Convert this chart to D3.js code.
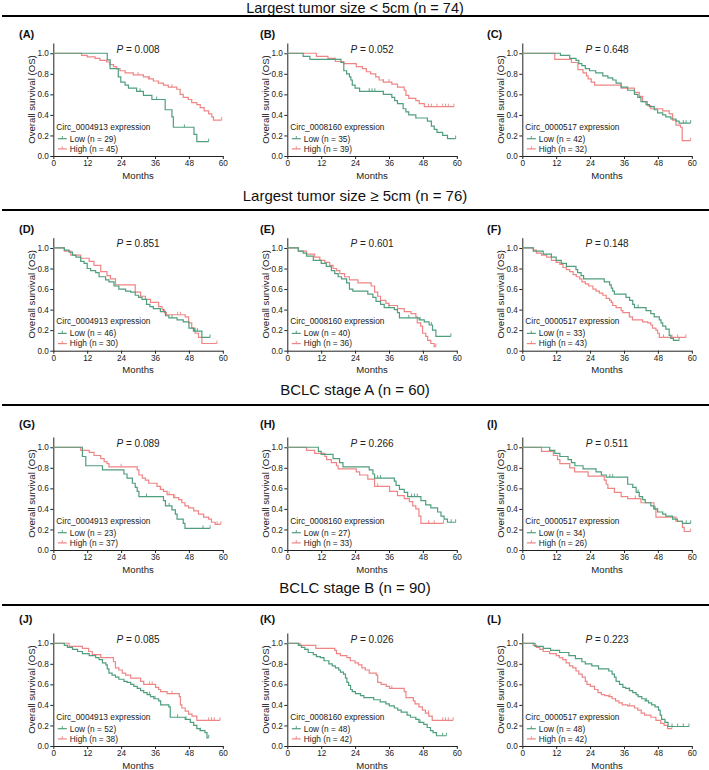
<!DOCTYPE html>
<html><head><meta charset="utf-8">
<script src="https://cdn.jsdelivr.net/npm/d3@7"></script>
<style>body{margin:0;background:#fff;} svg{display:block;font-family:"Liberation Sans",Arial,sans-serif;}</style>
</head><body>
<svg id="chart" width="709" height="770"></svg>
<script>
// ---------------- DATA ----------------
const sectionTitles = ["Largest tumor size < 5cm (n = 74)", "Largest tumor size \u2265 5cm (n = 76)", "BCLC stage A (n = 60)", "BCLC stage B (n = 90)"];
const panelLabels = ["(A)","(B)","(C)","(D)","(E)","(F)","(G)","(H)","(I)","(J)","(K)","(L)"];
const pValues = ["0.008","0.052","0.648","0.851","0.601","0.148","0.089","0.266","0.511","0.085","0.026","0.223"];
const circIds = ["Circ_0004913","Circ_0008160","Circ_0000517"];
const lowN  = [29,35,42,46,40,33,23,27,34,52,48,48];
const highN = [45,39,32,30,36,43,37,33,26,38,42,42];
const xTicks = [0,12,24,36,48,60];
const yTicks = [0,0.2,0.4,0.6,0.8,1.0];
const xTitle = "Months";
const yTitle = "Overall survival (OS)";

// survival steps: [month, survival from that month on]; last point = end of follow-up
const lowA = [[0,1],[19.1,.935],[20.1,.85],[23,.77],[23.9,.72],[25.4,.69],[26.6,.66],[29.5,.63],[31.9,.59],[34.9,.55],[39.6,.45],[42,.38],[42.5,.28],[49.8,.21],[50.8,.14],[55,.14]];
const highA = [[0,1],[10,.98],[12,.965],[14.8,.95],[16.5,.93],[18.9,.915],[20,.89],[21.3,.87],[22.4,.85],[23.6,.83],[25.4,.81],[28.3,.79],[31.9,.77],[33.7,.75],[35.4,.73],[37.2,.71],[39,.69],[40.7,.67],[43.7,.65],[44.9,.60],[46,.57],[47.8,.55],[49,.52],[50.8,.50],[52,.47],[53.4,.44],[55,.41],[56.1,.38],[56.7,.35],[59.6,.35]];
const lowB = [[0,1],[5.6,.97],[8,.94],[19,.91],[20,.83],[21,.80],[22,.77],[22.5,.74],[23,.69],[24,.66],[25.6,.63],[34,.60],[37,.57],[38,.54],[39,.51],[41,.46],[42,.43],[43,.40],[45.5,.37],[49.6,.34],[51,.29],[52,.26],[53,.23],[55,.20],[56.7,.17],[59.6,.17]];
const highB = [[0,1],[10.3,.97],[14.4,.95],[17,.92],[20,.90],[24.4,.87],[26.6,.85],[28,.82],[29.5,.80],[31.3,.77],[32.5,.74],[34,.72],[37,.70],[39,.67],[41.4,.64],[42,.59],[43,.56],[45.5,.54],[46.7,.51],[48.5,.48],[59,.48]];
const lowC = [[0,1],[13.5,.98],[16.8,.95],[19,.93],[20,.90],[21.1,.88],[22.3,.85],[23.8,.83],[26,.81],[28.5,.78],[30.3,.76],[32,.74],[33.2,.71],[35,.67],[37.3,.64],[39.7,.60],[40.9,.57],[42,.53],[43.8,.50],[45,.48],[46.7,.45],[47.9,.42],[49.7,.40],[50.8,.38],[52.6,.36],[54.4,.34],[55.5,.32],[59.6,.32]];
const highC = [[0,1],[11.5,.94],[17.4,.91],[19.7,.84],[21.5,.81],[22.7,.78],[23.3,.75],[24.4,.72],[25.6,.69],[35,.66],[39.7,.62],[41.4,.58],[42.6,.53],[44.3,.49],[45.5,.46],[49.7,.44],[52,.41],[53.2,.35],[54.4,.30],[56,.28],[56.6,.15],[59.6,.15]];
const lowD = [[0,1],[3.9,.98],[5.6,.96],[6.8,.93],[8,.91],[9.7,.87],[10.9,.85],[12,.80],[13.2,.78],[15,.76],[16.2,.72],[18.5,.69],[19.7,.67],[21.5,.63],[23.2,.60],[25.6,.58],[27.4,.57],[29,.54],[30.2,.52],[31.4,.50],[33,.45],[34.2,.43],[35.4,.41],[37.9,.38],[39.7,.34],[40.9,.32],[43.8,.30],[46,.28],[48,.22],[49.6,.19],[52.6,.13],[55.5,.13]];
const highD = [[0,1],[3.9,.97],[6.2,.93],[9.7,.90],[12.7,.87],[14.4,.83],[16.8,.77],[19,.73],[20.2,.70],[22,.64],[29,.57],[30.9,.53],[32.6,.50],[34.4,.47],[37.3,.43],[38.5,.40],[39.3,.37],[40,.35],[46.7,.33],[47.9,.27],[49,.22],[50.2,.17],[51.4,.13],[52.6,.07],[57.9,.07]];
const lowE = [[0,1],[3.9,.97],[5.6,.95],[6.8,.92],[9.2,.88],[12,.85],[13.8,.82],[15.6,.78],[16.8,.75],[18,.72],[19.2,.70],[21,.66],[22,.60],[23.2,.58],[28.5,.55],[30.3,.52],[31.4,.48],[33,.45],[34.3,.42],[37.9,.40],[39,.37],[39.7,.32],[46.7,.30],[48.5,.28],[50.2,.25],[51.4,.20],[52.6,.14],[57.9,.14]];
const highE = [[0,1],[3.9,.97],[6.8,.94],[9.7,.91],[11.5,.88],[13.3,.86],[15,.83],[16.2,.80],[17.4,.78],[18.6,.75],[20.3,.72],[22,.69],[25,.66],[29.7,.63],[30.9,.57],[32,.53],[33,.49],[34.9,.46],[36,.44],[39,.41],[41.4,.38],[43.8,.36],[45.5,.33],[46,.27],[47.2,.24],[47.9,.17],[49,.14],[49.7,.10],[50.8,.07],[52,.04],[52.6,.04]];
const lowF = [[0,1],[3.9,.97],[7.4,.94],[10.3,.91],[12,.88],[13.8,.85],[15.6,.82],[19,.79],[19.6,.76],[20.8,.73],[21.7,.70],[29,.67],[30.9,.64],[31.5,.61],[32,.58],[32.6,.55],[36.7,.52],[38,.49],[39.1,.45],[39.7,.42],[43.8,.39],[45.5,.36],[46.7,.33],[48.5,.30],[49.1,.27],[49.7,.24],[50.8,.21],[52,.15],[52.6,.12],[53.5,.10],[55.5,.10]];
const highF = [[0,1],[3.9,.98],[5,.95],[6.8,.93],[8.6,.91],[10.3,.88],[12,.86],[13.3,.84],[14.4,.81],[15.6,.79],[16.8,.77],[18,.74],[19.1,.72],[20.3,.70],[21.1,.67],[22.3,.65],[23.5,.63],[25,.60],[26.1,.58],[27.3,.56],[28.5,.54],[29.7,.51],[30.9,.49],[31.5,.47],[32,.44],[33.2,.42],[35,.39],[35.6,.37],[37.9,.33],[39,.30],[42.6,.28],[44.4,.27],[45.5,.25],[46.1,.22],[47.3,.20],[47.9,.17],[48.5,.13],[57.9,.13]];
const lowG = [[0,1],[10.3,.91],[11.5,.82],[17.4,.78],[25,.74],[26.1,.70],[28,.65],[29,.61],[29.7,.57],[30.3,.52],[39,.48],[39.7,.43],[42,.39],[43.2,.35],[43.8,.30],[46,.26],[46.6,.21],[55.5,.21]];
const highG = [[0,1],[9.7,.97],[12.7,.95],[14.4,.92],[16.8,.89],[18,.86],[19,.84],[19.7,.81],[29.7,.78],[30.3,.73],[31.5,.70],[32.6,.68],[33.8,.65],[36.7,.62],[37.9,.59],[39,.57],[40.3,.54],[42.6,.51],[44.4,.49],[45.5,.46],[46.6,.43],[47.9,.41],[49.7,.38],[51.4,.35],[53.2,.32],[55,.30],[56,.27],[57.3,.25],[59.3,.25]];
const lowH = [[0,1],[11,.96],[12,.93],[16.2,.89],[18.5,.85],[19.7,.81],[29,.78],[30.3,.74],[30.9,.70],[37.9,.67],[38.5,.63],[39.7,.59],[41.4,.56],[42.6,.52],[47.3,.48],[49,.44],[50.8,.41],[53.2,.37],[54.4,.33],[55.5,.30],[56.7,.27],[59.6,.27]];
const highH = [[0,1],[6.8,.97],[9.7,.94],[13.3,.91],[13.9,.88],[15.6,.85],[17.4,.82],[18,.79],[24.4,.76],[25.6,.73],[28.5,.69],[30.9,.62],[36.2,.57],[39,.53],[41.4,.50],[43.2,.47],[44.4,.43],[45.5,.40],[46.6,.33],[47.3,.26],[55.3,.26]];
const lowI = [[0,1],[9.7,.97],[11.5,.94],[13.3,.91],[16.2,.88],[17.4,.85],[18.6,.82],[21.5,.79],[26.1,.76],[28,.73],[29.7,.71],[37.3,.64],[39.1,.61],[40.3,.56],[41.4,.52],[42.6,.49],[43.5,.46],[45.5,.43],[46.6,.40],[47.9,.37],[49.7,.35],[50.8,.33],[53.2,.30],[54.9,.28],[56.7,.26],[59.6,.26]];
const highI = [[0,1],[6.8,.96],[11,.92],[12.5,.88],[13.3,.84],[16.8,.80],[18.5,.76],[23.3,.72],[29,.68],[29.7,.64],[30.3,.60],[32.6,.56],[35,.52],[37.3,.50],[42,.46],[46.6,.40],[47.3,.32],[54.4,.28],[56.7,.22],[57.3,.18],[59.6,.18]];
const lowJ = [[0,1],[3.9,.98],[5,.96],[6.8,.94],[8.6,.92],[10.3,.90],[12.7,.88],[15,.86],[16.2,.84],[17.4,.81],[18.6,.79],[19.1,.75],[19.7,.71],[20.8,.69],[22,.67],[23.2,.65],[25,.63],[26.1,.62],[27.4,.60],[28.5,.58],[29.7,.56],[30.9,.54],[32,.52],[33.2,.50],[34.4,.48],[35.6,.46],[37.3,.44],[38,.40],[40.9,.38],[41.4,.28],[46.7,.26],[48.5,.23],[49.7,.20],[50.8,.17],[52,.15],[53.7,.13],[54.4,.08],[55,.08]];
const highJ = [[0,1],[5.6,.97],[10.3,.95],[12.5,.92],[13.8,.89],[16.8,.86],[21.3,.82],[22,.76],[23.2,.74],[24.4,.71],[25.6,.69],[27.4,.66],[30.9,.63],[32,.60],[36.2,.57],[37.3,.55],[38,.53],[40.3,.51],[44.6,.48],[45,.40],[45.5,.37],[46.7,.34],[47.9,.31],[49.1,.29],[50.8,.25],[59,.25]];
const lowK = [[0,1],[3.9,.98],[5,.96],[6.2,.94],[7.4,.91],[9.2,.89],[10.3,.87],[11.7,.86],[13,.83],[14.7,.80],[15.9,.78],[17,.76],[18.2,.74],[18.8,.72],[19.9,.70],[20.6,.66],[21.1,.62],[21.7,.59],[22.4,.55],[23,.53],[24.1,.51],[25.9,.49],[27.1,.47],[30.6,.45],[32.9,.43],[34.9,.41],[36.1,.39],[37.9,.37],[39.1,.35],[40.3,.33],[42.4,.30],[43.6,.28],[45.5,.26],[46.6,.23],[48.3,.21],[49.5,.18],[50.7,.15],[51.6,.13],[52.8,.10],[56.3,.10]];
const highK = [[0,1],[4.5,.98],[10.1,.95],[16.8,.93],[17.4,.90],[18.8,.88],[21.1,.86],[22.3,.83],[24,.81],[25.2,.79],[26.4,.76],[27.6,.74],[29,.71],[31.5,.69],[32,.62],[33.2,.60],[35,.58],[36.2,.56],[41.4,.53],[42,.47],[44.6,.44],[45.2,.41],[46.6,.38],[47.8,.35],[48.9,.32],[50.1,.29],[51.3,.25],[58.7,.25]];
const lowL = [[0,1],[4.5,.97],[7.4,.95],[10,.93],[13.2,.91],[16.5,.88],[18.8,.85],[21.1,.82],[22.3,.80],[24.6,.78],[27,.75],[30.6,.73],[31.8,.70],[32.6,.67],[33.2,.63],[34.4,.60],[35.6,.57],[36.6,.56],[37.9,.54],[39.1,.52],[40.3,.50],[41,.48],[42.3,.46],[43.5,.44],[44.7,.42],[45.8,.40],[47,.38],[48.2,.35],[48.8,.30],[49.3,.26],[50.5,.23],[51.6,.19],[59,.19]];
const highL = [[0,1],[3.9,.98],[5,.96],[6.2,.94],[7.4,.92],[9.7,.90],[12,.88],[13.1,.86],[14.3,.84],[15.5,.81],[16.7,.78],[17.9,.76],[19,.73],[20,.70],[21.2,.67],[22.3,.63],[22.9,.60],[24.1,.58],[25.6,.55],[26.8,.52],[28,.50],[29.2,.49],[30.6,.48],[31.8,.46],[33,.44],[34.2,.42],[35.4,.40],[37.3,.39],[39.7,.37],[40.9,.35],[42.1,.32],[43.3,.30],[45.5,.28],[47.3,.25],[49,.22],[50.2,.20],[51.4,.17],[53,.17]];

// censoring times (months)
const lowCensA=[30.7,36.6,46.4,55], highCensA=[30,34,42,59.6];
const lowCensB=[29,30,31,59.6], highCensB=[34,36,50,51,53,55,56,57,59];
const lowCensC=[57,58,59.6], highCensC=[59.6];
const lowCensD=[39,42,50,51,55.5], highCensD=[44,45,57.9];
const lowCensE=[36,43,47,51,57.9], highCensE=[52.6];
const lowCensF=[41,55.5], highCensF=[38,50,53,55,57.9];
const lowCensG=[33,41,53,55.5], highCensG=[24,38,41,43,58,59.3];
const lowCensH=[32,33,44,45,46,58,59.6], highCensH=[32,50,52,55.3];
const lowCensI=[31,32,41,47,58,59.6], highCensI=[40,59.6];
const lowCensJ=[34,36,44,47,52,55], highCensJ=[34,35,42,55,56,57,59];
const lowCensK=[47,55,56.3], highCensK=[37,50,55,56,57,58.7];
const lowCensL=[38,44,53,55,57,59], highCensL=[31,33,38,53];

const lowCurves  = [lowA,lowB,lowC,lowD,lowE,lowF,lowG,lowH,lowI,lowJ,lowK,lowL];
const highCurves = [highA,highB,highC,highD,highE,highF,highG,highH,highI,highJ,highK,highL];
const lowCens  = [lowCensA,lowCensB,lowCensC,lowCensD,lowCensE,lowCensF,lowCensG,lowCensH,lowCensI,lowCensJ,lowCensK,lowCensL];
const highCens = [highCensA,highCensB,highCensC,highCensD,highCensE,highCensF,highCensG,highCensH,highCensI,highCensJ,highCensK,highCensL];

// ---------------- LAYOUT ----------------
const svg = d3.select("#chart");
const W = 709;
const colX = [53.3, 287.3, 522.3];
const plotW = 169.5;
const rowZero = [156, 350.7, 550, 746];
const plotH = 113; // domain 0..1.1
const headerLineY = [16, 210, 405, 605];
const headerTextY = [13, 201, 395, 593];
const labelX = [19, 260, 487];
const labelY = [37.5, 232.5, 427.5, 622.5];
const GREEN = "#4f9e7d", RED = "#ef8585";
const FONT = "'Liberation Sans', Arial, sans-serif";

sectionTitles.forEach((t,i)=>{
  svg.append("text").attr("x", 355).attr("y", headerTextY[i]).attr("text-anchor","middle")
    .attr("font-size", i===0 ? 14.5 : 15).attr("fill","#111").text(t);
  svg.append("line").attr("x1",2).attr("x2",W).attr("y1",headerLineY[i]).attr("y2",headerLineY[i])
    .attr("stroke","#000").attr("stroke-width",2.2);
});

function survAt(curve, t){
  let s = curve[0][1];
  for (const p of curve){ if (p[0] <= t) s = p[1]; else break; }
  return s;
}

for (let k=0;k<12;k++){
  const r = Math.floor(k/3), c = k%3;
  const x0 = colX[c], y0 = rowZero[r];
  const x = d3.scaleLinear().domain([0,60]).range([x0, x0+plotW]);
  const y = d3.scaleLinear().domain([0,1.1]).range([y0, y0-plotH]);
  const g = svg.append("g");

  // axes
  const ax = g.append("g").attr("transform",`translate(0,${y0})`)
    .call(d3.axisBottom(x).tickValues(xTicks).tickSize(3).tickSizeOuter(0).tickPadding(1.5));
  const ay = g.append("g").attr("transform",`translate(${x0},0)`)
    .call(d3.axisLeft(y).tickValues(yTicks).tickFormat(d3.format(".1f")).tickSize(3).tickSizeOuter(0).tickPadding(1.5));
  [ax,ay].forEach(a=>{
    a.selectAll("text").attr("font-size",8.2).attr("font-family",FONT).attr("fill","#222");
    a.selectAll("line,path").attr("stroke","#222").attr("stroke-width",1);
  });

  // titles
  g.append("text").attr("x", x0+plotW/2).attr("y", y0+22.5).attr("text-anchor","middle")
    .attr("font-size",9.6).attr("fill","#222").text(xTitle);
  g.append("text").attr("transform",`translate(${x0-18.5},${y0-plotH/2}) rotate(-90)`)
    .attr("text-anchor","middle").attr("font-size",9.6).attr("fill","#222").text(yTitle);
  g.append("text").attr("x", labelX[c]).attr("y", labelY[r]).attr("font-size",11).attr("font-weight","bold")
    .attr("fill","#111").text(panelLabels[k]);
  const pt = g.append("text").attr("x", x0+plotW/2).attr("y", y0-plotH+9.5).attr("text-anchor","middle")
    .attr("font-size",10).attr("fill","#222");
  pt.append("tspan").attr("font-style","italic").text("P");
  pt.append("tspan").text(" = " + pValues[k]);

  // curves
  const line = d3.line().x(d=>x(d[0])).y(d=>y(d[1])).curve(d3.curveStepAfter);
  [[highCurves[k], highCens[k], RED],[lowCurves[k], lowCens[k], GREEN]].forEach(([cv,cs,col])=>{
    g.append("path").attr("d", line(cv)).attr("fill","none").attr("stroke",col).attr("stroke-width",1.2);
    g.selectAll(null).data(cs).enter().append("line")
      .attr("x1",d=>x(d)).attr("x2",d=>x(d))
      .attr("y1",d=>y(survAt(cv,d))).attr("y2",d=>y(survAt(cv,d))-3)
      .attr("stroke",col).attr("stroke-width",0.9);
  });

  // legend
  const lx = x0+3;
  g.append("text").attr("x", lx).attr("y", y0-26.5).attr("font-size",8.3).attr("fill","#222")
    .text(circIds[c] + " expression");
  [["Low (n = " + lowN[k] + ")", GREEN, y0-14.5],["High (n = " + highN[k] + ")", RED, y0-4.3]].forEach(([t,col,yy])=>{
    g.append("line").attr("x1",lx+1.5).attr("x2",lx+10.5).attr("y1",yy-2.8).attr("y2",yy-2.8)
      .attr("stroke",col).attr("stroke-width",1.2);
    g.append("line").attr("x1",lx+6).attr("x2",lx+6).attr("y1",yy-2.8).attr("y2",yy-5.5)
      .attr("stroke",col).attr("stroke-width",0.9);
    g.append("text").attr("x", lx+13.5).attr("y", yy).attr("font-size",8.3).attr("fill","#222").text(t);
  });
}
</script>
</body></html>
